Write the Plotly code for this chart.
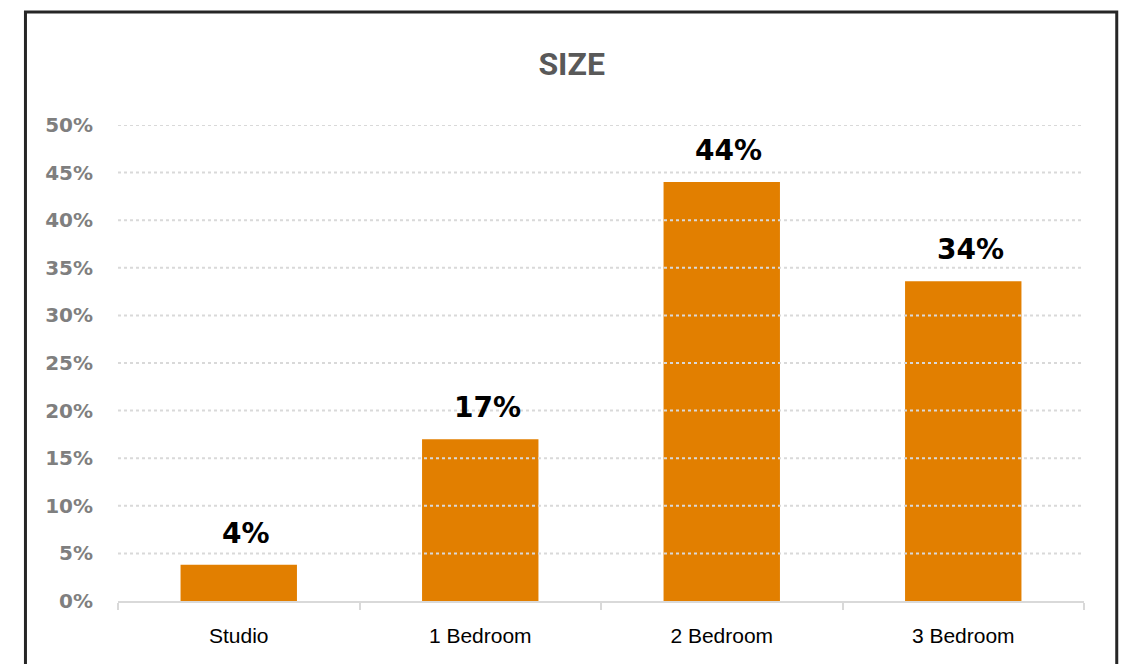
import plotly.graph_objects as go

# Unit size mix
categories = ["Studio", "1 Bedroom", "2 Bedroom", "3 Bedroom"]
shares = [0.038, 0.17, 0.44, 0.336]
y_ticks = [0, 0.05, 0.10, 0.15, 0.20, 0.25, 0.30, 0.35, 0.40, 0.45, 0.50]

BAR = "#E27F00"
GRID = "#D9D9D9"
TICK_GREY = "#7F7F7F"

fig = go.Figure(
    go.Bar(
        x=categories,
        y=shares,
        marker=dict(color=BAR, line=dict(width=0)),
        hoverinfo="skip",
    )
)

# dotted gridlines drawn over the bars
shapes = [
    dict(
        type="line", xref="paper", yref="y",
        x0=0, x1=1, y0=t, y1=t,
        line=dict(color=GRID, width=2, dash="dot"),
        layer="above",
    )
    for t in y_ticks if t > 0
]
# outer frame of the card
shapes.append(
    dict(
        type="rect", xref="paper", yref="paper",
        x0=-0.0958, x1=1.0339, y0=-0.4, y1=1.2374,
        line=dict(color="#262626", width=3),
        fillcolor="rgba(0,0,0,0)",
        layer="below",
    )
)

# value labels above each bar
annotations = [
    dict(
        x=c, y=v, xref="x", yref="y",
        text=f"{v:.0%}",
        showarrow=False,
        yanchor="bottom",
        xshift=7, yshift=13,
        font=dict(family="DejaVu Sans", size=28, color="#000000", weight="bold"),
    )
    for c, v in zip(categories, shares)
]

fig.update_layout(
    width=1141,
    height=664,
    margin=dict(l=118, r=57, t=125, b=63),
    paper_bgcolor="white",
    plot_bgcolor="white",
    showlegend=False,
    bargap=0.518,
    title=dict(
        text="SIZE",
        xref="container", yref="container",
        x=0.501, y=0.9045, xanchor="center", yanchor="middle",
        font=dict(family="Roboto", size=32, color="#595959", weight="bold"),
    ),
    shapes=shapes,
    annotations=annotations,
    xaxis=dict(
        showgrid=False,
        showline=True, linecolor=GRID, linewidth=2,
        ticks="outside", tickson="boundaries", ticklen=7, tickwidth=2, tickcolor=GRID,
        ticklabelstandoff=15,
        tickfont=dict(family="Liberation Sans", size=21, color="#000000"),
        zeroline=False,
    ),
    yaxis=dict(
        range=[0, 0.5],
        tickvals=y_ticks,
        tickformat=".0%",
        showgrid=False,
        zeroline=False,
        showline=False,
        ticks="outside", ticklen=20, tickcolor="rgba(0,0,0,0)",
        tickfont=dict(family="DejaVu Sans", size=20, color=TICK_GREY, weight="bold"),
    ),
)

fig.write_html("out.html")
